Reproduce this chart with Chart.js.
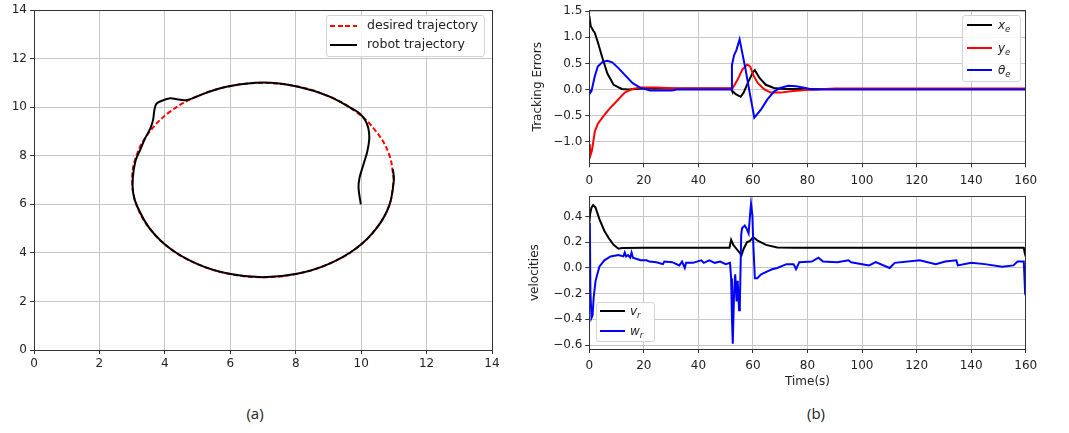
<!DOCTYPE html>
<html>
<head>
<meta charset="utf-8">
<script src="https://cdn.jsdelivr.net/npm/chart.js@4.4.1/dist/chart.umd.min.js"></script>
<style>
  body { margin: 0; background: #fff; }
  #page { position: relative; width: 1069px; height: 433px; overflow: hidden; font-family: "DejaVu Sans", sans-serif; color: #222; }
  canvas { position: absolute; }
  .legend { position: absolute; background: rgba(255,255,255,0.85); border: 1px solid #d4d4d4; border-radius: 3px; box-sizing: border-box; font-size: 12px; }
  .row { position: absolute; height: 16px; line-height: 16px; white-space: nowrap; }
  .sample { position: absolute; height: 2px; }
  .caption { position: absolute; font-family: "Open Sans", sans-serif; font-size: 15px; transform: translate(-50%, -50%); }
  sub { font-size: 8.5px; }
</style>
</head>
<body>
<div id="page">
  <canvas id="xyChart" width="510" height="380" style="left:0;top:0"></canvas>
  <canvas id="errChart" width="549" height="190" style="left:520px;top:0"></canvas>
  <canvas id="velChart" width="549" height="214" style="left:520px;top:186px"></canvas>

  <div class="legend" style="left:326px;top:15px;width:159px;height:42px;font-size:12.5px">
    <div class="sample" style="left:3px;top:9px;width:27px;background:repeating-linear-gradient(to right,#f00 0 5px,transparent 5px 7.5px)"></div>
    <div class="row" style="left:40px;top:1px">desired trajectory</div>
    <div class="sample" style="left:3px;top:28px;width:27px;background:#000"></div>
    <div class="row" style="left:40px;top:20px">robot trajectory</div>
  </div>

  <div class="legend" style="left:962px;top:15px;width:59px;height:67px">
    <div class="sample" style="left:4px;top:8px;width:25px;background:#000"></div>
    <div class="row" style="left:35px;top:1px"><i>x</i><sub><i>e</i></sub></div>
    <div class="sample" style="left:4px;top:31px;width:25px;background:#f00"></div>
    <div class="row" style="left:35px;top:24px"><i>y</i><sub><i>e</i></sub></div>
    <div class="sample" style="left:4px;top:53px;width:25px;background:#00f"></div>
    <div class="row" style="left:35px;top:46px"><i>θ</i><sub><i>e</i></sub></div>
  </div>

  <div class="legend" style="left:596px;top:302px;width:59px;height:40px">
    <div class="sample" style="left:3px;top:7px;width:25px;background:#000"></div>
    <div class="row" style="left:33px;top:0px"><i>v</i><sub><i>r</i></sub></div>
    <div class="sample" style="left:3px;top:27px;width:25px;background:#00f"></div>
    <div class="row" style="left:33px;top:20px"><i>w</i><sub><i>r</i></sub></div>
  </div>

  <div class="caption" style="left:255px;top:413px">(a)</div>
  <div class="caption" style="left:816px;top:413px">(b)</div>
</div>
<script>
// (a) desired circle and robot path
const desiredX = [11, 10.86, 10.46, 9.83, 9, 8.04, 7, 5.96, 5, 4.17, 3.54, 3.14, 3, 3.14, 3.54, 4.17, 5, 5.96, 7, 8.04, 9, 9.83, 10.46, 10.86, 11];
const desiredY = [7, 8.04, 9, 9.83, 10.46, 10.86, 11, 10.86, 10.46, 9.83, 9, 8.04, 7, 5.96, 5, 4.17, 3.54, 3.14, 3, 3.14, 3.54, 4.17, 5, 5.96, 7];
const robotX = [9.99, 9.92, 9.95, 10.07, 10.19, 10.25, 10.22, 10.12, 9.97, 9.83,
                9.0, 8.04, 7.0, 5.96, 5.31, 4.68,
                4.37, 4.17, 3.91, 3.74, 3.68, 3.64, 3.56, 3.40, 3.25, 3.10,
                3.02, 3.03, 3.14, 3.54, 4.17, 5.0, 5.96, 7.0, 8.04, 9.0, 9.83, 10.46, 10.86, 11.0, 10.97];
const robotY = [6.00, 6.69, 7.09, 7.64, 8.19, 8.73, 9.14, 9.48, 9.72, 9.86,
                10.46, 10.86, 11.02, 10.87, 10.62, 10.30,
                10.33, 10.37, 10.27, 10.14, 9.89, 9.48, 9.14, 8.73, 8.26, 7.78,
                7.09, 6.48, 5.96, 5.0, 4.17, 3.54, 3.14, 3.0, 3.14, 3.54, 4.17, 5.0, 5.96, 7.0, 7.45];
const xyTicks = [0, 2, 4, 6, 8, 10, 12, 14];

// (b) tracking errors
const xeTime = [0, 0.5, 1.4, 2.0, 3.1, 4.9, 6.6, 8.9, 11.9, 14.2, 20, 30, 40, 52.0, 52.3, 53.7, 55.5, 56.6, 58.4, 60.1, 60.7, 62.4, 64.7, 67.7, 71.2, 80, 100, 120, 140, 160];
const xeVal  = [1.41, 1.22, 1.13, 1.09, 0.91, 0.59, 0.31, 0.09, 0.01, 0.0, 0.02, 0.02, 0.02, 0.02, -0.02, -0.09, -0.14, -0.06, 0.16, 0.34, 0.37, 0.22, 0.09, 0.03, 0.01, 0.01, 0.01, 0.01, 0.01, 0.01];
const yeTime = [0, 0.2, 0.5, 1.0, 2.0, 3.1, 4.9, 7.2, 10.1, 13.0, 15.9, 18.8, 24.6, 31.6, 40, 52.0, 52.6, 54.4, 56.1, 57.9, 59.0, 60.1, 61.8, 64.2, 66.5, 70, 74.7, 79.3, 90, 120, 160];
const yeVal  = [-1.05, -1.1, -1.25, -1.16, -0.81, -0.66, -0.53, -0.38, -0.22, -0.06, 0.01, 0.04, 0.04, 0.02, 0.02, 0.02, 0.03, 0.19, 0.38, 0.48, 0.44, 0.28, 0.12, 0.0, -0.06, -0.06, -0.03, -0.01, 0.02, 0.02, 0.02];
const thTime = [0, 0.4, 0.8, 2.0, 3.1, 4.9, 6.6, 8.4, 10.7, 13.0, 15.9, 18.8, 22.3, 30.4, 32, 52.0, 52.3, 53.1, 53.9, 55.1, 57.2, 58.9, 60.5, 63.0, 65.3, 67.7, 70, 72.9, 75.8, 79.3, 81.6, 100, 130, 160];
const thVal  = [0, -0.06, -0.03, 0.25, 0.44, 0.53, 0.55, 0.52, 0.41, 0.28, 0.12, 0.03, -0.02, -0.02, 0.0, 0.0, 0.47, 0.66, 0.75, 0.96, 0.41, -0.09, -0.54, -0.38, -0.19, -0.04, 0.03, 0.07, 0.06, 0.03, 0.0, 0.0, 0.0, 0.0];
const errTicks = [-1.0, -0.5, 0.0, 0.5, 1.0, 1.5];

// (b) velocities
const vrTime = [0, 0.3, 0.8, 1.4, 2.3, 3.7, 5.5, 7.2, 8.9, 10.7, 12, 20, 30, 40, 51.4, 52.0, 52.8, 54.3, 55.8, 56.6, 57.8, 58.9, 60.1, 61.9, 64.8, 68.9, 75, 100, 130, 159.3, 159.6, 160];
const vrVal  = [0.35, 0.42, 0.47, 0.49, 0.47, 0.38, 0.29, 0.23, 0.18, 0.15, 0.155, 0.158, 0.158, 0.158, 0.158, 0.22, 0.18, 0.14, 0.10, 0.15, 0.20, 0.21, 0.24, 0.21, 0.18, 0.16, 0.158, 0.158, 0.158, 0.158, 0.12, 0.09];
const wrTime = [0, 0.2, 0.4, 0.8, 1.2, 1.6, 2.3, 3.7, 5.5, 7.8,
                10.7, 12.5, 13.0, 13.5, 14.2, 15.0, 15.5, 16.0, 18.8, 21.0,
                22.0, 24.6, 27.0, 27.5, 30.4, 33.0, 34.0, 35.0, 35.5, 38.0,
                41.0, 42.0, 44.0, 46.0, 48.0, 50.0, 51.6, 52.0, 52.3, 52.6,
                53.1, 53.5, 54.0, 54.4, 54.9, 55.2, 55.7, 56.0, 57.0, 57.6,
                58.4, 59.0, 59.3, 59.8, 60.1, 60.7, 61.6, 63.0, 65.9, 67.0,
                68.9, 72.3, 74.9, 75.8, 77.0, 81.6, 84.0, 85.7, 90.9, 95.0,
                96.0, 102.6, 105.0, 110.1, 112.0, 121.2, 127.0, 130.5, 134.6, 135.1,
                140.0, 145.0, 151.4, 155.5, 157.0, 159.3, 159.8, 160.0];
const wrVal  = [-0.05, 0.35, -0.18, -0.39, -0.37, -0.23, -0.10, 0.01, 0.06, 0.09,
                0.10, 0.09, 0.12, 0.09, 0.10, 0.08, 0.12, 0.08, 0.06, 0.06,
                0.05, 0.045, 0.03, 0.05, 0.045, 0.02, 0.05, 0.0, 0.04, 0.04,
                0.06, 0.04, 0.06, 0.04, 0.05, 0.03, 0.04, -0.08, -0.39, -0.59,
                -0.18, -0.05, -0.26, -0.10, -0.33, -0.28, 0.26, 0.31, 0.33, 0.31,
                0.27, 0.43, 0.50, 0.41, 0.20, -0.08, -0.08, -0.05, -0.02, -0.01,
                0.0, 0.03, 0.03, -0.01, 0.045, 0.05, 0.08, 0.05, 0.045, 0.06,
                0.045, 0.02, 0.045, 0.0, 0.04, 0.06, 0.03, 0.05, 0.06, 0.02,
                0.04, 0.03, 0.01, 0.02, 0.05, 0.05, -0.20, -0.21];
const velTicks = [-0.6, -0.4, -0.2, 0.0, 0.2, 0.4];
const timeTicks = [0, 20, 40, 60, 80, 100, 120, 140, 160];

const FONT = { family: 'DejaVu Sans', size: 12 };

function pts(xs, ys) {
    return xs.map((x, i) => ({ x: x, y: ys[i] }));
}

function fmt1(v) {
    return v.toFixed(1).replace('-', '\u2212');
}

// full box around the axes, like matplotlib spines
const boxPlugin = {
    id: 'box',
    afterDraw(chart) {
        const { ctx, chartArea: a } = chart;
        ctx.save();
        ctx.strokeStyle = '#333';
        ctx.lineWidth = 1;
        ctx.strokeRect(Math.round(a.left) + 0.5, Math.round(a.top) + 0.5, Math.round(a.right - a.left), Math.round(a.bottom - a.top));
        ctx.restore();
    }
};

function axis(min, max, ticks, fmt, pad, extra) {
    return Object.assign({
        type: 'linear',
        min: min,
        max: max,
        afterBuildTicks: s => { s.ticks = ticks.map(v => ({ value: v })); },
        grid: { color: '#c6c6c6', tickColor: '#333', tickLength: 4, lineWidth: 1 },
        border: { display: false },
        ticks: { color: '#222', font: FONT, padding: pad, maxRotation: 0, autoSkip: false, callback: fmt }
    }, extra);
}

function line(data, color, order, dash) {
    return {
        data: data,
        showLine: true,
        borderColor: color,
        borderWidth: 2,
        borderDash: dash || [],
        pointRadius: 0,
        tension: 0,
        fill: false,
        order: order
    };
}

function baseOptions(padding, scales) {
    return {
        responsive: false,
        animation: false,
        events: [],
        layout: { padding: padding, autoPadding: false },
        plugins: { legend: { display: false }, tooltip: { enabled: false } },
        scales: scales
    };
}

const desiredSet = line(pts(desiredX, desiredY), '#ff0000', 1, [5, 2.5]);
desiredSet.tension = 0.4;
const robotSet = line(pts(robotX, robotY), '#000000', 0);
robotSet.tension = 0.35;

new Chart(document.getElementById('xyChart'), {
    type: 'scatter',
    data: { datasets: [desiredSet, robotSet] },
    options: baseOptions({ top: 8, right: 18, left: 0, bottom: 0 }, {
        x: axis(0, 14, xyTicks, v => String(v), 3, { afterFit: s => { s.height = 30; } }),
        y: axis(0, 14, xyTicks, v => String(v), 3, { afterFit: s => { s.width = 34; } })
    }),
    plugins: [boxPlugin]
});

new Chart(document.getElementById('errChart'), {
    type: 'scatter',
    data: {
        datasets: [
            line(pts(xeTime, xeVal), '#000000', 2),
            line(pts(yeTime, yeVal), '#ff0000', 1),
            line(pts(thTime, thVal), '#0000ff', 0)
        ]
    },
    options: baseOptions({ top: 8, right: 43.3, left: 10, bottom: 0 }, {
        x: axis(0, 160, timeTicks, v => String(v), 6, { afterFit: s => { s.height = 26.7; } }),
        y: axis(-1.415, 1.52, errTicks, fmt1, 3, {
            afterFit: s => { s.width = 59.3; },
            title: { display: true, text: 'Tracking Errors', color: '#222', font: FONT, padding: { top: 1, bottom: 0 } }
        })
    }),
    plugins: [boxPlugin]
});

new Chart(document.getElementById('velChart'), {
    type: 'scatter',
    data: {
        datasets: [
            line(pts(vrTime, vrVal), '#000000', 1),
            line(pts(wrTime, wrVal), '#0000ff', 0)
        ]
    },
    options: baseOptions({ top: 8.3, right: 43.3, left: 8, bottom: 0 }, {
        x: axis(0, 160, timeTicks, v => String(v), 6, {
            afterFit: s => { s.height = 51; },
            title: { display: true, text: 'Time(s)', color: '#222', font: FONT, padding: { top: 0, bottom: 11 } }
        }),
        y: axis(-0.631, 0.559, velTicks, fmt1, 3, {
            afterFit: s => { s.width = 61.3; },
            title: { display: true, text: 'velocities', color: '#222', font: FONT, padding: { top: 0, bottom: 0 } }
        })
    }),
    plugins: [boxPlugin]
});
</script>
</body>
</html>
